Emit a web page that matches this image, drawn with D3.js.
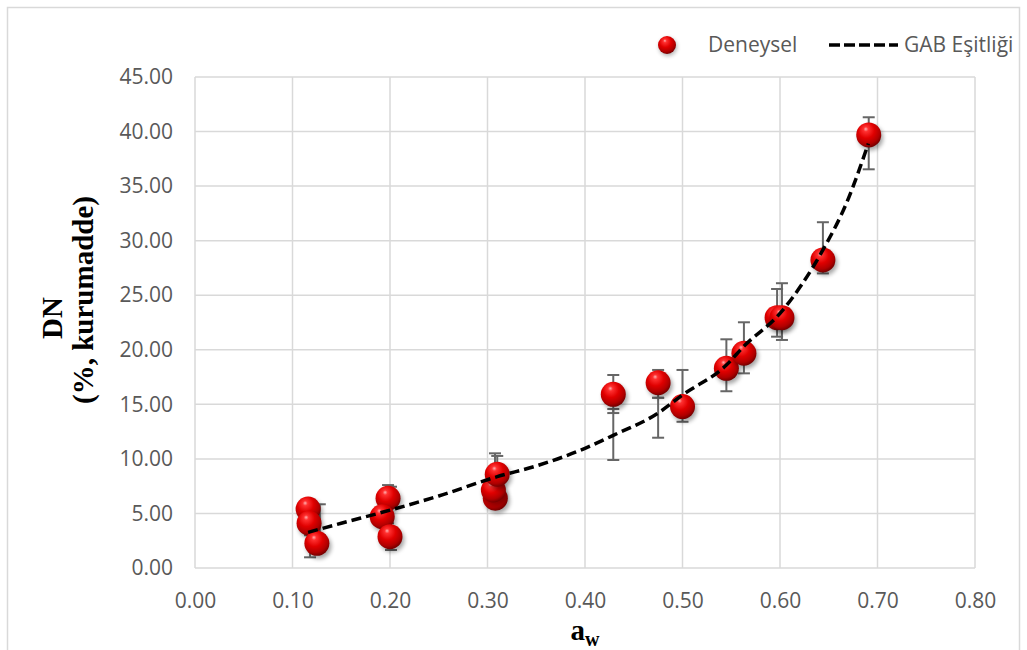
<!DOCTYPE html>
<html><head><meta charset="utf-8">
<script src="https://cdn.jsdelivr.net/npm/d3@7"></script>
<style>body{margin:0;background:#fff}svg{display:block}</style>
</head><body>
<svg id="c" width="1027" height="650"></svg>
<script>
// ---- data ----
const xTicks = [0,0.1,0.2,0.3,0.4,0.5,0.6,0.7,0.8];
const yTicks = [0,5,10,15,20,25,30,35,40,45];
const awExp = [0.116,0.117,0.125,0.198,0.192,0.200,0.308,0.306,0.310,0.429,0.475,0.500,0.545,0.563,0.597,0.602,0.644,0.691];
const dnExp = [5.41,4.10,2.26,6.39,4.70,2.87,6.39,7.15,8.59,15.92,16.98,14.79,18.30,19.68,22.94,22.94,28.23,39.69];
const errX  = [0.118,0.128,0.198,0.201,0.3077,0.310,0.429,0.429,0.475,0.475,0.500,0.545,0.563,0.597,0.602,0.644,0.691];
const errLo = [0.98,3.0,4.1,1.65,6.0,6.5,14.2,9.9,15.6,11.94,13.4,16.2,17.84,21.2,20.9,27.0,36.54];
const errHi = [3.0,5.84,7.6,7.45,10.51,10.27,17.69,14.57,18.15,15.6,18.15,20.96,22.52,25.57,26.1,31.69,41.31];
const awGab = [0.116,0.15,0.2,0.25,0.31,0.35,0.4,0.43,0.475,0.5,0.545,0.5627,0.6,0.644,0.668,0.6906];
const dnGab = [3.27,4.1,5.3,6.6,8.37,9.35,10.97,12.2,14.2,15.86,18.6,20.3,23.34,29.15,33.4,38.9];
const seriesNames = ["Deneysel","GAB Eşitliği"];

const svg = d3.select("#c");
const x = d3.scaleLinear().domain([0,0.8]).range([195,975]);
const y = d3.scaleLinear().domain([0,45]).range([568,77]);

// defs
const defs = svg.append("defs");
const g = defs.append("radialGradient").attr("id","ball").attr("cx","42%").attr("cy","35%").attr("r","65%").attr("fx","38%").attr("fy","26%");
[[0,"#ffb0b0"],[0.15,"#ff3030"],[0.5,"#e00000"],[0.82,"#b00000"],[1,"#760000"]].forEach(s=>g.append("stop").attr("offset",s[0]).attr("stop-color",s[1]));
const f = defs.append("filter").attr("id","sh").attr("x","-50%").attr("y","-50%").attr("width","200%").attr("height","200%");
f.append("feGaussianBlur").attr("stdDeviation",2);

// frame
svg.append("rect").attr("x",7.5).attr("y",7.5).attr("width",1012).attr("height",660).attr("fill","#fff").attr("stroke","#d9d9d9").attr("stroke-width",1.5);

// grid
svg.append("g").selectAll("line").data(xTicks).join("line")
  .attr("x1",d=>x(d)).attr("x2",d=>x(d)).attr("y1",y(45)).attr("y2",y(0))
  .attr("stroke","#d9d9d9").attr("stroke-width",1.5);
svg.append("g").selectAll("line").data(yTicks).join("line")
  .attr("x1",x(0)).attr("x2",x(0.8)).attr("y1",d=>y(d)).attr("y2",d=>y(d))
  .attr("stroke","#d9d9d9").attr("stroke-width",1.5);

// axes labels
const xAxis = d3.axisBottom(x).tickValues(xTicks).tickFormat(d3.format(".2f")).tickSize(0).tickPadding(25);
const gx = svg.append("g").attr("transform",`translate(0,${y(0)})`).call(xAxis);
gx.select(".domain").remove();
const yAxis = d3.axisLeft(y).tickValues(yTicks).tickFormat(d3.format(".2f")).tickSize(0).tickPadding(22);
const gy = svg.append("g").attr("transform",`translate(${x(0)},0)`).call(yAxis);
gy.select(".domain").remove();
svg.selectAll(".tick text").attr("font-family","'Open Sans', sans-serif").attr("font-size",21).attr("fill","#595959");

// axis titles
const yt = svg.append("text").attr("transform","translate(0,300) rotate(-90)").attr("text-anchor","middle")
  .attr("font-family","'Liberation Serif', serif").attr("font-weight","bold").attr("font-size",29).attr("fill","#000");
yt.append("tspan").attr("x",-18).attr("y",62).text("DN");
yt.append("tspan").attr("x",0).attr("y",93).text("(%, kurumadde)");
const xt = svg.append("text").attr("x",585).attr("y",640).attr("text-anchor","middle")
  .attr("font-family","'Liberation Serif', serif").attr("font-weight","bold").attr("font-size",29).attr("fill","#000");
xt.append("tspan").text("a");
xt.append("tspan").attr("font-size",20).attr("dy",6).text("w");

// error bars
const eb = svg.append("g").attr("stroke","#666").attr("stroke-width",2);
errX.forEach((xv,i)=>{
  eb.append("line").attr("x1",x(xv)).attr("x2",x(xv)).attr("y1",y(errLo[i])).attr("y2",y(errHi[i]));
  eb.append("line").attr("x1",x(xv)-6).attr("x2",x(xv)+6).attr("y1",y(errLo[i])).attr("y2",y(errLo[i]));
  eb.append("line").attr("x1",x(xv)-6).attr("x2",x(xv)+6).attr("y1",y(errHi[i])).attr("y2",y(errHi[i]));
});

// balls
const R=12.5;
const pts = awExp.map((a,i)=>({a,d:dnExp[i]}));
const bg = svg.append("g");
pts.forEach(p=>{
  bg.append("circle").attr("cx",x(p.a)+2).attr("cy",y(p.d)+3).attr("r",R).attr("fill","#000").attr("opacity",0.35).attr("filter","url(#sh)");
  bg.append("circle").attr("cx",x(p.a)).attr("cy",y(p.d)).attr("r",R).attr("fill","url(#ball)");
});

// GAB line
const line = d3.line().x(d=>x(d[0])).y(d=>y(d[1])).curve(d3.curveMonotoneX);
svg.append("path").datum(awGab.map((a,i)=>[a,dnGab[i]])).attr("d",line)
  .attr("fill","none").attr("stroke","#000").attr("stroke-width",3.5).attr("stroke-dasharray","10,5");

// legend
const lg = svg.append("g");
lg.append("circle").attr("cx",668).attr("cy",47).attr("r",9).attr("fill","#000").attr("opacity",0.3).attr("filter","url(#sh)");
lg.append("circle").attr("cx",667).attr("cy",45).attr("r",9).attr("fill","url(#ball)");
lg.append("text").attr("x",708).attr("y",52).text(seriesNames[0]);
lg.append("line").attr("x1",829).attr("x2",898).attr("y1",45).attr("y2",45).attr("stroke","#000").attr("stroke-width",3.5).attr("stroke-dasharray","11,4");
lg.append("text").attr("x",904).attr("y",52).text(seriesNames[1]);
lg.selectAll("text").attr("font-family","'Open Sans', sans-serif").attr("font-size",21).attr("fill","#595959");
</script>
</body></html>
